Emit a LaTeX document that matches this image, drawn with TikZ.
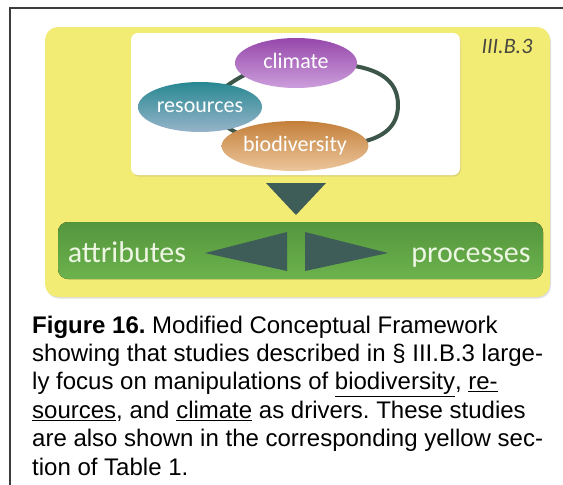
\documentclass[tikz,border=0pt]{standalone}
\usepackage{fontspec}
\setmainfont{Liberation Sans}
\newfontfamily\labelfont{Carlito}
\usetikzlibrary{positioning}
\usetikzlibrary{shapes.geometric,shadows}
\frenchspacing

\definecolor{panelyellow}{RGB}{243,236,116}
\definecolor{ringgreen}{RGB}{60,86,74}
\definecolor{wedgegray}{RGB}{62,92,88}
\definecolor{bartop}{RGB}{84,150,62}
\definecolor{barbottom}{RGB}{108,178,76}
\definecolor{framegray}{RGB}{60,60,60}

\begin{document}
\begin{tikzpicture}[x=1pt, y=-1pt,
    driver/.style={ellipse, inner sep=0pt, minimum width=122pt, minimum height=50pt,
      text=white, text height=14pt, text depth=4pt, font=\labelfont\fontsize{22}{24}\selectfont},
    wedge/.style={fill=wedgegray},
    barlabel/.style={text={rgb,255:red,236;green,246;blue,226}, inner sep=0pt, anchor=base,
      font=\labelfont\fontsize{30}{32}\selectfont}]
    \useasboundingbox (0,0) rectangle (563,485);
    \fill[white] (0,0) rectangle (563,485);
    \draw[framegray, line width=2pt] (563,8) -- (10,8) -- (10,485);

    % panels
    \fill[panelyellow, rounded corners=13pt, drop shadow={opacity=0.25, shadow xshift=1pt, shadow yshift=-1.5pt}]
      (45,27) rectangle (550,297);
    \fill[white, rounded corners=7pt, drop shadow={opacity=0.2, shadow xshift=1pt, shadow yshift=-1.5pt}]
      (131,33) rectangle (460,175);
    \node(section) at (507,46) [text={rgb,255:red,72;green,72;blue,64},
      font=\labelfont\itshape\fontsize{22}{22}\selectfont] {III.B.3};

    % driver ring
    \coordinate(cl) at (296,63);
    \coordinate(re) at (200,107);
    \coordinate(bi) at (295,146);
    \coordinate(ringeast) at (398,105);
    \draw[ringgreen, line width=4pt] (cl) to[out=0,in=90] (ringeast) to[out=-90,in=0] (bi)
      to[out=180,in=-40] (re) to[out=40,in=180] (cl);

    \node(climate) [driver, top color={rgb,255:red,150;green,72;blue,170},
      bottom color={rgb,255:red,204;green,158;blue,220}] at (cl) {climate};
    \node(resources) [driver, minimum width=124pt, top color={rgb,255:red,40;green,136;blue,146},
      bottom color={rgb,255:red,150;green,180;blue,202}] at (re) {resources};
    \node(biodiversity) [driver, minimum width=120pt, top color={rgb,255:red,196;green,128;blue,58},
      bottom color={rgb,255:red,236;green,198;blue,156}] at (bi) {biodiversity};

    % outcome bar
    \fill[wedge] (266,183) -- (326,183) -- (296,215) -- cycle;
    \fill[top color=bartop, bottom color=barbottom, rounded corners=10pt] (58,222) rectangle (543,279);
    \fill[wedge] (205,253) -- (287,232) -- (287,271) -- cycle;
    \fill[wedge] (388,253) -- (305,232) -- (305,271) -- cycle;
    \node(attributes) [barlabel] at (127,262) {attributes};
    \node(processes) [barlabel] at (471,262) {processes};

    \node(caption) [anchor=north west, inner sep=0pt, align=left,
      font=\fontsize{24}{28.4}\selectfont] at (32,315.5)
      {\textbf{Figure 16.} Modified Conceptual Framework\\
       showing that studies described in \S\ III.B.3 large-\\
       ly focus on manipulations of \underline{biodiversity}, \underline{re-}\\
       \underline{sources}, and \underline{climate} as drivers. These studies\\
       are also shown in the corresponding yellow sec-\\
       tion of Table 1.};
  \end{tikzpicture}
\end{document}
